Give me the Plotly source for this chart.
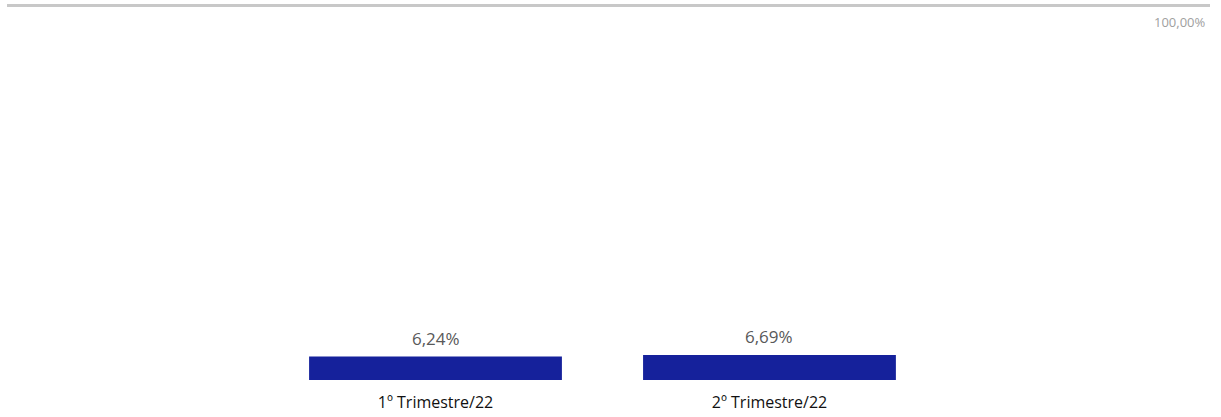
import plotly.graph_objects as go

categories = ["1º Trimestre/22", "2º Trimestre/22"]
values = [6.24, 6.69]
value_labels = ["6,24%", "6,69%"]
y_tick_vals = [100]
y_tick_labels = ["100,00%"]

fig = go.Figure()
fig.add_trace(go.Bar(
    x=categories, y=values, width=0.757,
    marker=dict(color="#15219B", line=dict(width=0)),
    hoverinfo="skip",
))
for c, v, t in zip(categories, values, value_labels):
    fig.add_annotation(x=c, y=v, text=t, showarrow=False, yanchor="bottom", yshift=5,
                       font=dict(family="Open Sans", size=17, color="#595959"))
fig.add_annotation(xref="paper", yref="y", x=1.0, y=y_tick_vals[0], text=y_tick_labels[0],
                   showarrow=False, xanchor="right", yanchor="top", xshift=-2, yshift=-6,
                   font=dict(family="Open Sans", size=13, color="#a0a0a0"))

fig.update_layout(
    width=1221, height=417,
    margin=dict(l=7, r=11, t=3, b=37),
    paper_bgcolor="white", plot_bgcolor="white",
    showlegend=False,
    xaxis=dict(type="category", range=[-1.283, 2.319], showgrid=False, showline=False,
               zeroline=False, ticks="outside", ticklen=8, tickcolor="rgba(0,0,0,0)",
               tickfont=dict(family="Open Sans", size=16, color="#111111")),
    yaxis=dict(range=[0, 100.6], tickvals=y_tick_vals, showticklabels=False, showgrid=True,
               gridcolor="#c8c8c8", gridwidth=3, zeroline=False, showline=False),
)
fig.write_html("out.html", config={"displayModeBar": False},
               post_script="document.body.style.margin='0';document.body.style.overflow='hidden';")
